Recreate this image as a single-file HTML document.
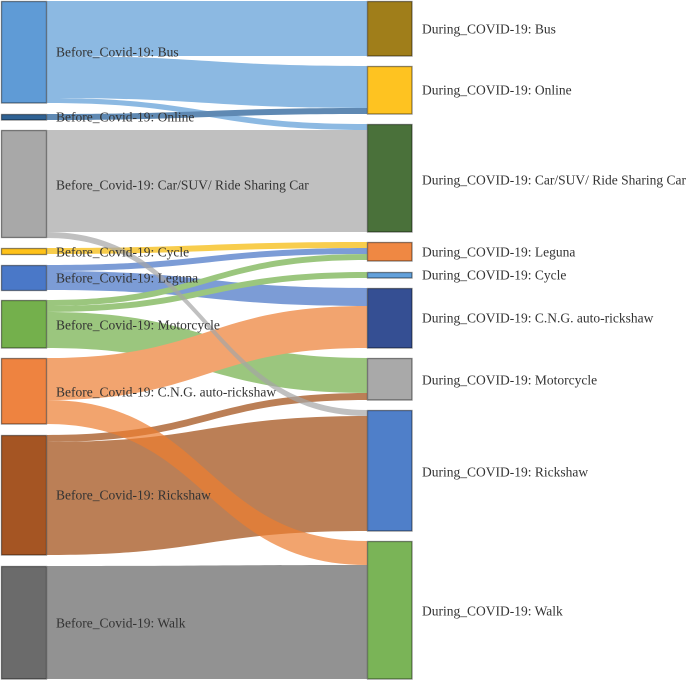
<!DOCTYPE html>
<html><head><meta charset="utf-8"><style>
html,body{margin:0;padding:0;background:#fff;}
svg{display:block;}
svg text{font-family:"Liberation Serif","DejaVu Serif",serif;font-size:13.5px;fill:#333;}
</style></head><body>
<svg width="687" height="681" viewBox="0 0 687 681" xmlns="http://www.w3.org/2000/svg">
<g>
<path d="M47,1 C207,1 207,1 367,1 L367,56 C207,56 207,56 47,56 Z" fill="#8cb9e2"/>
<path d="M47,56 C207,56 207,66 367,66 L367,108 C207,108 207,98 47,98 Z" fill="#8cb9e2"/>
<path d="M47,98 C207,98 207,124 367,124 L367,130 C207,130 207,103 47,103 Z" fill="#8cb9e2"/>
<path d="M47,114 C207,114 207,108 367,108 L367,114 C207,114 207,120 47,120 Z" fill="#5f89b3"/>
<path d="M47,130 C207,130 207,130 367,130 L367,232 C207,232 207,232 47,232 Z" fill="#c0c0c0"/>
<path d="M47,248 C207,248 207,242 367,242 L367,248 C207,248 207,254 47,254 Z" fill="#f8cd4d"/>
<path d="M47,265 C207,265 207,248 367,248 L367,254 C207,254 207,271 47,271 Z" fill="#7c9cd6"/>
<path d="M47,271 C207,271 207,288 367,288 L367,306 C207,306 207,290 47,290 Z" fill="#7c9cd6"/>
<path d="M47,300 C207,300 207,254 367,254 L367,260 C207,260 207,306 47,306 Z" fill="#9bc67e"/>
<path d="M47,306 C207,306 207,272 367,272 L367,278 C207,278 207,312 47,312 Z" fill="#9bc67e"/>
<path d="M47,312 C207,312 207,358 367,358 L367,393 C207,393 207,348 47,348 Z" fill="#9bc67e"/>
<path d="M47,358 C207,358 207,306 367,306 L367,348 C207,348 207,400 47,400 Z" fill="#f2a46f"/>
<path d="M47,435 C207,435 207,393 367,393 L367,400 C207,400 207,442 47,442 Z" fill="#bb7f56"/>
<path d="M47,442 C207,442 207,416 367,416 L367,531 C207,531 207,555 47,555 Z" fill="#bb7f56"/>
<path d="M47,400 C207,400 207,541 367,541 L367,565 C207,565 207,424 47,424 Z" fill="#ed7d31" fill-opacity="0.7"/>
<path d="M47,232 C207,232 207,410 367,410 L367,416 C207,416 207,238 47,238 Z" fill="#a5a5a5" fill-opacity="0.7"/>
<path d="M47,566 C207,566 207,565 367,565 L367,679 C207,679 207,679 47,679 Z" fill="#929292"/>
</g>
<g stroke="rgba(0,0,0,0.45)" stroke-width="1.3">
<rect x="1.5" y="1.5" width="45" height="101.5" fill="#5f9bd6"/>
<rect x="1.5" y="114.5" width="45" height="5.5" fill="#2f6294"/>
<rect x="1.5" y="130.5" width="45" height="107" fill="#a8a8a8"/>
<rect x="1.5" y="248.5" width="45" height="6" fill="#ffc21a"/>
<rect x="1.5" y="265.5" width="45" height="25" fill="#4a78c8"/>
<rect x="1.5" y="300.5" width="45" height="47.5" fill="#74b04c"/>
<rect x="1.5" y="358.5" width="45" height="65.5" fill="#ee8340"/>
<rect x="1.5" y="435.5" width="45" height="119.5" fill="#a55523"/>
<rect x="1.5" y="566.5" width="45" height="112.5" fill="#6b6b6b"/>
<rect x="367.5" y="1.5" width="44.5" height="54.5" fill="#a07e1a"/>
<rect x="367.5" y="66.5" width="44.5" height="47.5" fill="#fec321"/>
<rect x="367.5" y="124.5" width="44.5" height="107.5" fill="#4a713a"/>
<rect x="367.5" y="242.5" width="44.5" height="18.5" fill="#ef8843"/>
<rect x="367.5" y="272.5" width="44.5" height="5.5" fill="#63a1db"/>
<rect x="367.5" y="288.5" width="44.5" height="59.5" fill="#354f93"/>
<rect x="367.5" y="358.5" width="44.5" height="41.5" fill="#a9a9a9"/>
<rect x="367.5" y="410.5" width="44.5" height="120.5" fill="#4f7fc9"/>
<rect x="367.5" y="541.5" width="44.5" height="137.5" fill="#7ab457"/>
</g>
<g dominant-baseline="central" font-family="Liberation Serif, DejaVu Serif, serif" font-size="13.5" fill="#333">
<text x="56" y="52">Before_Covid-19: Bus</text>
<text x="56" y="117">Before_Covid-19: Online</text>
<text x="56" y="185">Before_Covid-19: Car/SUV/ Ride Sharing Car</text>
<text x="56" y="252">Before_Covid-19: Cycle</text>
<text x="56" y="278">Before_Covid-19: Leguna</text>
<text x="56" y="325">Before_Covid-19: Motorcycle</text>
<text x="56" y="392">Before_Covid-19: C.N.G. auto-rickshaw</text>
<text x="56" y="495">Before_Covid-19: Rickshaw</text>
<text x="56" y="623">Before_Covid-19: Walk</text>
<text x="422" y="29">During_COVID-19: Bus</text>
<text x="422" y="90">During_COVID-19: Online</text>
<text x="422" y="180">During_COVID-19: Car/SUV/ Ride Sharing Car</text>
<text x="422" y="252">During_COVID-19: Leguna</text>
<text x="422" y="275">During_COVID-19: Cycle</text>
<text x="422" y="318">During_COVID-19: C.N.G. auto-rickshaw</text>
<text x="422" y="380">During_COVID-19: Motorcycle</text>
<text x="422" y="472">During_COVID-19: Rickshaw</text>
<text x="422" y="611">During_COVID-19: Walk</text>
</g>
</svg>
</body></html>
